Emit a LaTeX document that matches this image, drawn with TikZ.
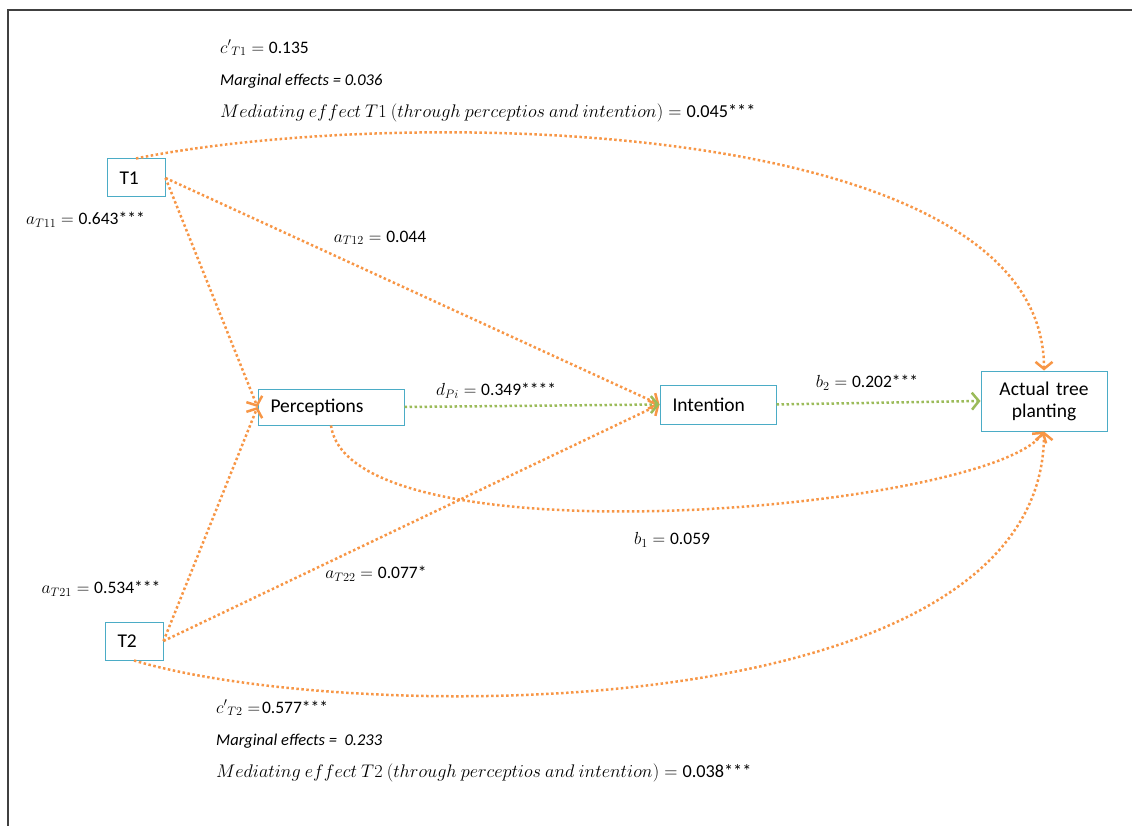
\RequirePackage{fix-cm}
\documentclass[tikz,border=0pt]{standalone}
\usepackage{amsmath}
\usepackage{fontspec}
\setmainfont{Carlito}
\usepackage{xcolor}
\usepackage{tikz}
\usetikzlibrary{arrows.meta}
\definecolor{boxcyan}{HTML}{4BACC6}
\definecolor{linkorange}{HTML}{F79646}
\definecolor{linkgreen}{HTML}{9BBB59}
\definecolor{framegray}{HTML}{404040}
\tikzset{
    varnode/.style = {draw=boxcyan, line width=1pt, inner xsep=12.5pt, inner ysep=0pt, align=left, font=\fontsize{19.5}{22}\selectfont},
    short_node/.style = {varnode, text width=33pt, minimum height=38pt},
    out_node/.style = {varnode, inner xsep=6pt, text width=114pt, align=center, minimum height=60pt},
    link/.style = {line width=2.5pt, dash pattern=on 2.5pt off 2.5pt, -{Straight Barb[length=7pt, width=17pt]}},
    orange_link/.style = {link, draw=linkorange},
    green_link/.style = {link, draw=linkgreen},
    coef/.style = {inner sep=0pt, font=\fontsize{17.5}{21}\selectfont},
    med_line/.style = {coef, anchor=west, font=\fontsize{18.25}{22}\selectfont},
    note/.style = {inner sep=0pt, anchor=west, font=\fontsize{16.5}{19}\selectfont\itshape}
}
\begin{document}
\begin{tikzpicture}[x=1pt, y=-1pt]
    \useasboundingbox (0,0) rectangle (1132,826);
    \draw[line width=1.5pt, framegray] (8,826) -- (8,10) -- (1132,10);

    \node [short_node] (T1) at (136,178) {T1};
    \node [short_node] (T2) at (134,641) {T2};
    \node [varnode, text width=121pt, minimum height=36pt] (perc) at (331,407) {Perceptions};
    \node [varnode, text width=91pt, minimum height=39pt] (intent) at (718,404.5) {Intention};
    \node [out_node] (actual) at (1044,401) {Actual tree\\planting};

    \draw [orange_link] (T1.north) .. controls (400,105) and (1044,115) .. (actual.north);
    \draw [orange_link] (T1.east) -- (perc.west);
    \draw [orange_link] (T1.east) -- (intent.west);
    \draw [orange_link] (T2.east) -- (perc.west);
    \draw [orange_link] (T2.east) -- (intent.west);
    \draw [orange_link] (perc.south) .. controls (350,565) and (990,510) .. (actual.south);
    \draw [orange_link] (T2.south) .. controls (350,725) and (1044,730) .. (actual.south);
    \draw [green_link] (perc.east) -- (intent.west);
    \draw [green_link] (intent.east) -- (actual.west);

    \node [coef, anchor=west] (cT1) at (220,48) {${c'}_{T1} = \text{0.135}$};
    \node [note] (margT1) at (220,81) {Marginal effects = 0.036};
    \node [med_line] (medT1) at (220,113) {$Mediating\ effect\ T1\ (through\ perceptios\ and\ intention) = \text{0.045***}$};
    \node [coef, anchor=west] (aT11) at (26,220) {$a_{T11} = \text{0.643***}$};
    \node [coef] (aT12) at (380,238) {$a_{T12} = \text{0.044}$};
    \node [coef] (dPi) at (496,391) {$d_{Pi} = \text{0.349****}$};
    \node [coef] (b2) at (867,383) {$b_2 = \text{0.202***}$};
    \node [coef] (b1) at (672,540) {$b_1 = \text{0.059}$};
    \node [coef] (aT22) at (376,574) {$a_{T22} = \text{0.077*}$};
    \node [coef] (aT21) at (101,589) {$a_{T21} = \text{0.534***}$};
    \node [coef, anchor=west] (cT2) at (216,708) {${c'}_{T2} = \!\text{0.577***}$};
    \node [note] (margT2) at (216,741) {Marginal effects =~ 0.233};
    \node [med_line] (medT2) at (216,773) {$Mediating\ effect\ T2\ (through\ perceptios\ and\ intention) = \text{0.038***}$};
\end{tikzpicture}
\end{document}
